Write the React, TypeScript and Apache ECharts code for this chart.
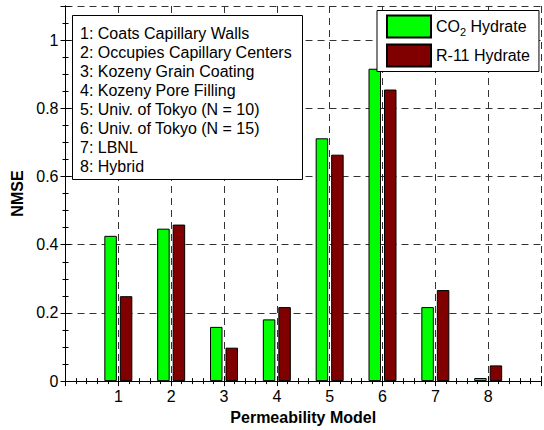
import React, { useEffect, useRef } from 'react';
import * as echarts from 'echarts';

const modelIds = [1, 2, 3, 4, 5, 6, 7, 8];
const co2Values = [0.426, 0.447, 0.159, 0.181, 0.712, 0.916, 0.217, 0.009];
const r11Values = [0.249, 0.459, 0.098, 0.217, 0.664, 0.855, 0.267, 0.046];
const seriesNames = ['CO2 Hydrate', 'R-11 Hydrate'];
const modelNames = [
  '1: Coats Capillary Walls',
  '2: Occupies Capillary Centers',
  '3: Kozeny Grain Coating',
  '4: Kozeny Pore Filling',
  '5: Univ. of Tokyo (N = 10)',
  '6: Univ. of Tokyo (N = 15)',
  '7: LBNL',
  '8: Hybrid',
];
const xAxisTitle = 'Permeability Model';
const yAxisTitle = 'NMSE';

const FONT = '"Liberation Sans", Arial, Helvetica, sans-serif';

export default function App() {
  const ref = useRef<HTMLDivElement>(null);
  useEffect(() => {
    if (!ref.current) return;
    const chart = echarts.init(ref.current, null, { renderer: 'svg' });
    const xCommon = {
      type: 'value' as const,
      min: 0,
      max: 9,
      interval: 1,
      axisLine: { show: true, lineStyle: { color: '#000', width: 1 } },
      axisTick: { show: true, inside: true, length: 5, lineStyle: { color: '#000' } },
      minorTick: { show: true, splitNumber: 5, length: 3, lineStyle: { color: '#000' } },
    };
    const yCommon = {
      type: 'value' as const,
      min: 0,
      max: 1.1,
      interval: 0.2,
      axisLine: { show: true, lineStyle: { color: '#000', width: 1 } },
      axisTick: { show: true, inside: true, length: 5, lineStyle: { color: '#000' } },
      minorTick: { show: true, splitNumber: 4, length: 3, lineStyle: { color: '#000' } },
    };
    const dashed = { show: true, lineStyle: { color: '#333', width: 1, type: [7, 5] as number[] } };
    chart.setOption({
      animation: false,
      backgroundColor: '#fff',
      textStyle: { fontFamily: FONT },
      grid: { left: 65.5, right: 1.5, top: 6, bottom: 46, containLabel: false },
      xAxis: [
        {
          ...xCommon,
          position: 'bottom',
          name: xAxisTitle,
          nameLocation: 'middle',
          nameGap: 26,
          nameTextStyle: { fontSize: 16, fontWeight: 'bold', color: '#000', fontFamily: FONT },
          axisLabel: {
            show: true,
            margin: 7,
            fontSize: 16,
            color: '#000',
            fontFamily: FONT,
            formatter: (v: number) => (modelIds.indexOf(v) >= 0 ? String(v) : ''),
          },
          splitLine: dashed,
        },
        {
          ...xCommon,
          position: 'top',
          axisLabel: { show: false },
          splitLine: { show: false },
        },
      ],
      yAxis: [
        {
          ...yCommon,
          position: 'left',
          name: yAxisTitle,
          nameLocation: 'middle',
          nameGap: 35,
          nameTextStyle: { fontSize: 16, fontWeight: 'bold', color: '#000', fontFamily: FONT },
          axisLabel: {
            show: true,
            margin: 7,
            fontSize: 16,
            color: '#000',
            fontFamily: FONT,
            showMaxLabel: false,
            formatter: (v: number) => String(Math.round(v * 10) / 10),
          },
          splitLine: dashed,
        },
        {
          ...yCommon,
          position: 'right',
          axisLabel: { show: false },
          splitLine: { show: false },
        },
      ],
      legend: {
        show: true,
        orient: 'vertical',
        left: 377,
        top: 10.5,
        padding: [4, 9, 4, 9],
        itemWidth: 44,
        itemHeight: 22,
        itemGap: 5,
        backgroundColor: '#fff',
        borderColor: '#000',
        borderWidth: 1,
        borderRadius: 0,
        icon: 'rect',
        data: seriesNames,
        formatter: (name: string) =>
          name === seriesNames[0] ? '{n|CO}{s|2}{n| Hydrate}' : '{n|' + name + '}',
        textStyle: {
          fontFamily: FONT,
          color: '#000',
          rich: {
            n: { fontSize: 16, lineHeight: 22, fontFamily: FONT, color: '#000' },
            s: { fontSize: 11, lineHeight: 7, verticalAlign: 'bottom', fontFamily: FONT, color: '#000' },
          },
        },
      },
      graphic: [
        {
          type: 'rect',
          shape: { x: 72.5, y: 15.5, width: 230, height: 164 },
          style: { fill: '#fff', stroke: '#000', lineWidth: 1 },
          z: 10,
        },
        {
          type: 'text',
          x: 80,
          y: 24,
          z: 11,
          style: {
            text: modelNames.join('\n'),
            fontSize: 16,
            lineHeight: 19,
            fontFamily: FONT,
            fill: '#000',
            verticalAlign: 'top',
            align: 'left',
          },
        },
      ],
      series: [
        {
          name: seriesNames[0],
          type: 'bar',
          xAxisIndex: 0,
          yAxisIndex: 0,
          barWidth: 12.5,
          barGap: '24%',
          itemStyle: { color: '#00ff00', borderColor: '#000', borderWidth: 1 },
          data: modelIds.map((x, i) => [x, co2Values[i]]),
        },
        {
          name: seriesNames[1],
          type: 'bar',
          xAxisIndex: 0,
          yAxisIndex: 0,
          barWidth: 12.5,
          barGap: '24%',
          itemStyle: { color: '#800000', borderColor: '#000', borderWidth: 1 },
          data: modelIds.map((x, i) => [x, r11Values[i]]),
        },
      ],
    });
    return () => chart.dispose();
  }, []);
  return <div ref={ref} style={{ width: 544, height: 430, position: 'absolute', left: 0, top: 0 }} />;
}
